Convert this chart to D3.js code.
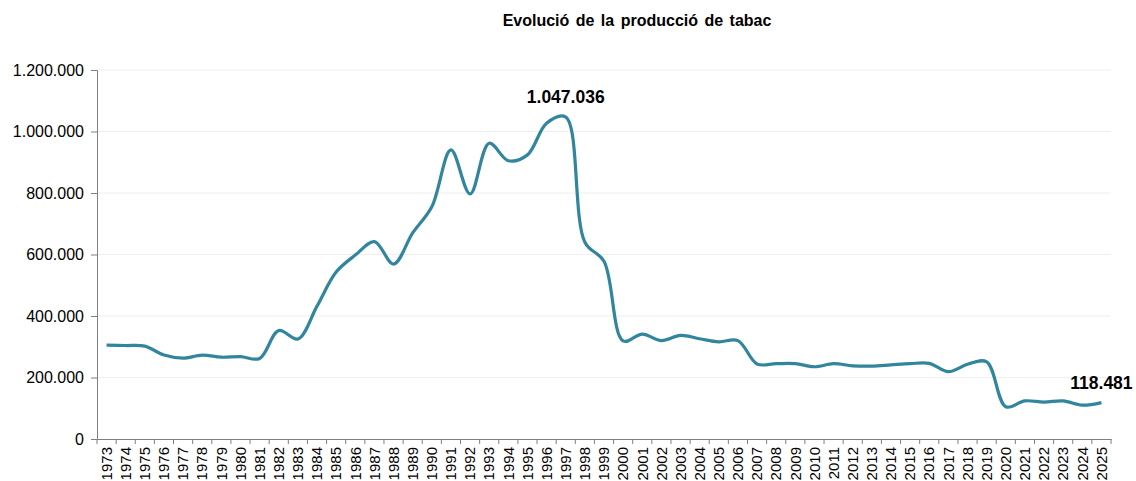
<!DOCTYPE html>
<html>
<head>
<meta charset="utf-8">
<script src="https://cdn.jsdelivr.net/npm/d3@7"></script>
<style>
  body { margin: 0; background: #fff; }
  svg text { font-family: "Liberation Sans", Arial, sans-serif; }
</style>
</head>
<body>
<div id="chart"></div>
<script>
var width = 1136, height = 481;
var margin = { top: 70, right: 25, bottom: 42, left: 97 };

var years = d3.range(1973, 2026).map(String);
var production = [
    305000, 304000, 302000, 273000, 263000, 273000, 266000, 268000, 262000, 353000,
    325000, 432000, 543000, 598000, 642000, 569000, 670000, 755000, 940000, 797000,
    962000, 905000, 924000, 1027000, 1047036, 640000, 578000, 319000, 341000, 320000,
    337000, 326000, 316000, 320000, 244000, 245000, 245000, 235000, 245000, 238000,
    237000, 241000, 245000, 246000, 219000, 243000, 251000, 105000, 124000, 120000,
    124000, 110000, 118481
];
var yTicks = [0, 200000, 400000, 600000, 800000, 1000000, 1200000];
var labelled = ["1997", "2025"];

var data = years.map(function(y, i) { return { year: y, value: production[i] }; });

var locale = d3.formatLocale({ decimal: ",", thousands: ".", grouping: [3], currency: ["", " €"] });
var fmt = locale.format(",d");

var x = d3.scaleBand()
    .domain(years)
    .range([margin.left, width - margin.right]);

var y = d3.scaleLinear()
    .domain([0, 1200000])
    .range([height - margin.bottom, margin.top]);

var svg = d3.select("#chart").append("svg")
    .attr("width", width)
    .attr("height", height);

// grid
svg.append("g")
    .selectAll("line")
    .data(yTicks.slice(1))
    .enter().append("line")
    .attr("x1", margin.left)
    .attr("x2", width - margin.right)
    .attr("y1", function(d) { return y(d); })
    .attr("y2", function(d) { return y(d); })
    .attr("stroke", "#eeeeee")
    .attr("stroke-width", 1);

var yAxis = d3.axisLeft(y).tickValues(yTicks).tickFormat(fmt).tickSize(6).tickPadding(7);
var axisY = svg.append("g")
    .attr("transform", "translate(" + margin.left + ",0)")
    .call(yAxis);
axisY.selectAll("text").style("font-size", "16px").attr("fill", "#000");

var xAxis = d3.axisBottom(x).tickSize(0).tickPadding(0);
var axisX = svg.append("g")
    .attr("transform", "translate(0," + (height - margin.bottom) + ")")
    .call(xAxis);
axisX.selectAll("text")
    .attr("transform", "rotate(-90)")
    .attr("text-anchor", "end")
    .attr("x", -8)
    .attr("y", 0)
    .attr("dy", "0.35em")
    .attr("fill", "#000")
    .style("font-size", "15px");

// boundary ticks on x axis
svg.append("g")
    .selectAll("line")
    .data(years.concat(["end"]))
    .enter().append("line")
    .attr("x1", function(d, i) { return margin.left + i * x.step(); })
    .attr("x2", function(d, i) { return margin.left + i * x.step(); })
    .attr("y1", height - margin.bottom)
    .attr("y2", height - margin.bottom + 5)
    .attr("stroke", "#7f7f7f");

svg.selectAll(".domain, .tick line").attr("stroke", "#7f7f7f");

var line = d3.line()
    .x(function(d) { return x(d.year) + x.bandwidth() / 2; })
    .y(function(d) { return y(d.value); })
    .curve(d3.curveCatmullRom.alpha(0.5));

svg.append("path")
    .datum(data)
    .attr("d", line)
    .attr("fill", "none")
    .attr("stroke", "#31859c")
    .attr("stroke-width", 3.2)
    .attr("stroke-linejoin", "round");

svg.append("g")
    .selectAll("text")
    .data(data.filter(function(d) { return labelled.indexOf(d.year) >= 0; }))
    .enter().append("text")
    .attr("x", function(d) { return x(d.year) + x.bandwidth() / 2; })
    .attr("y", function(d) { return y(d.value) - 14; })
    .attr("text-anchor", "middle")
    .style("font-size", "17.5px")
    .style("font-weight", "bold")
    .text(function(d) { return fmt(d.value); });

svg.append("text")
    .attr("x", 637)
    .attr("y", 26)
    .attr("text-anchor", "middle")
    .style("font-size", "16px")
    .style("font-weight", "bold")
    .style("word-spacing", "2px")
    .text("Evolució de la producció de tabac");
</script>
</body>
</html>
